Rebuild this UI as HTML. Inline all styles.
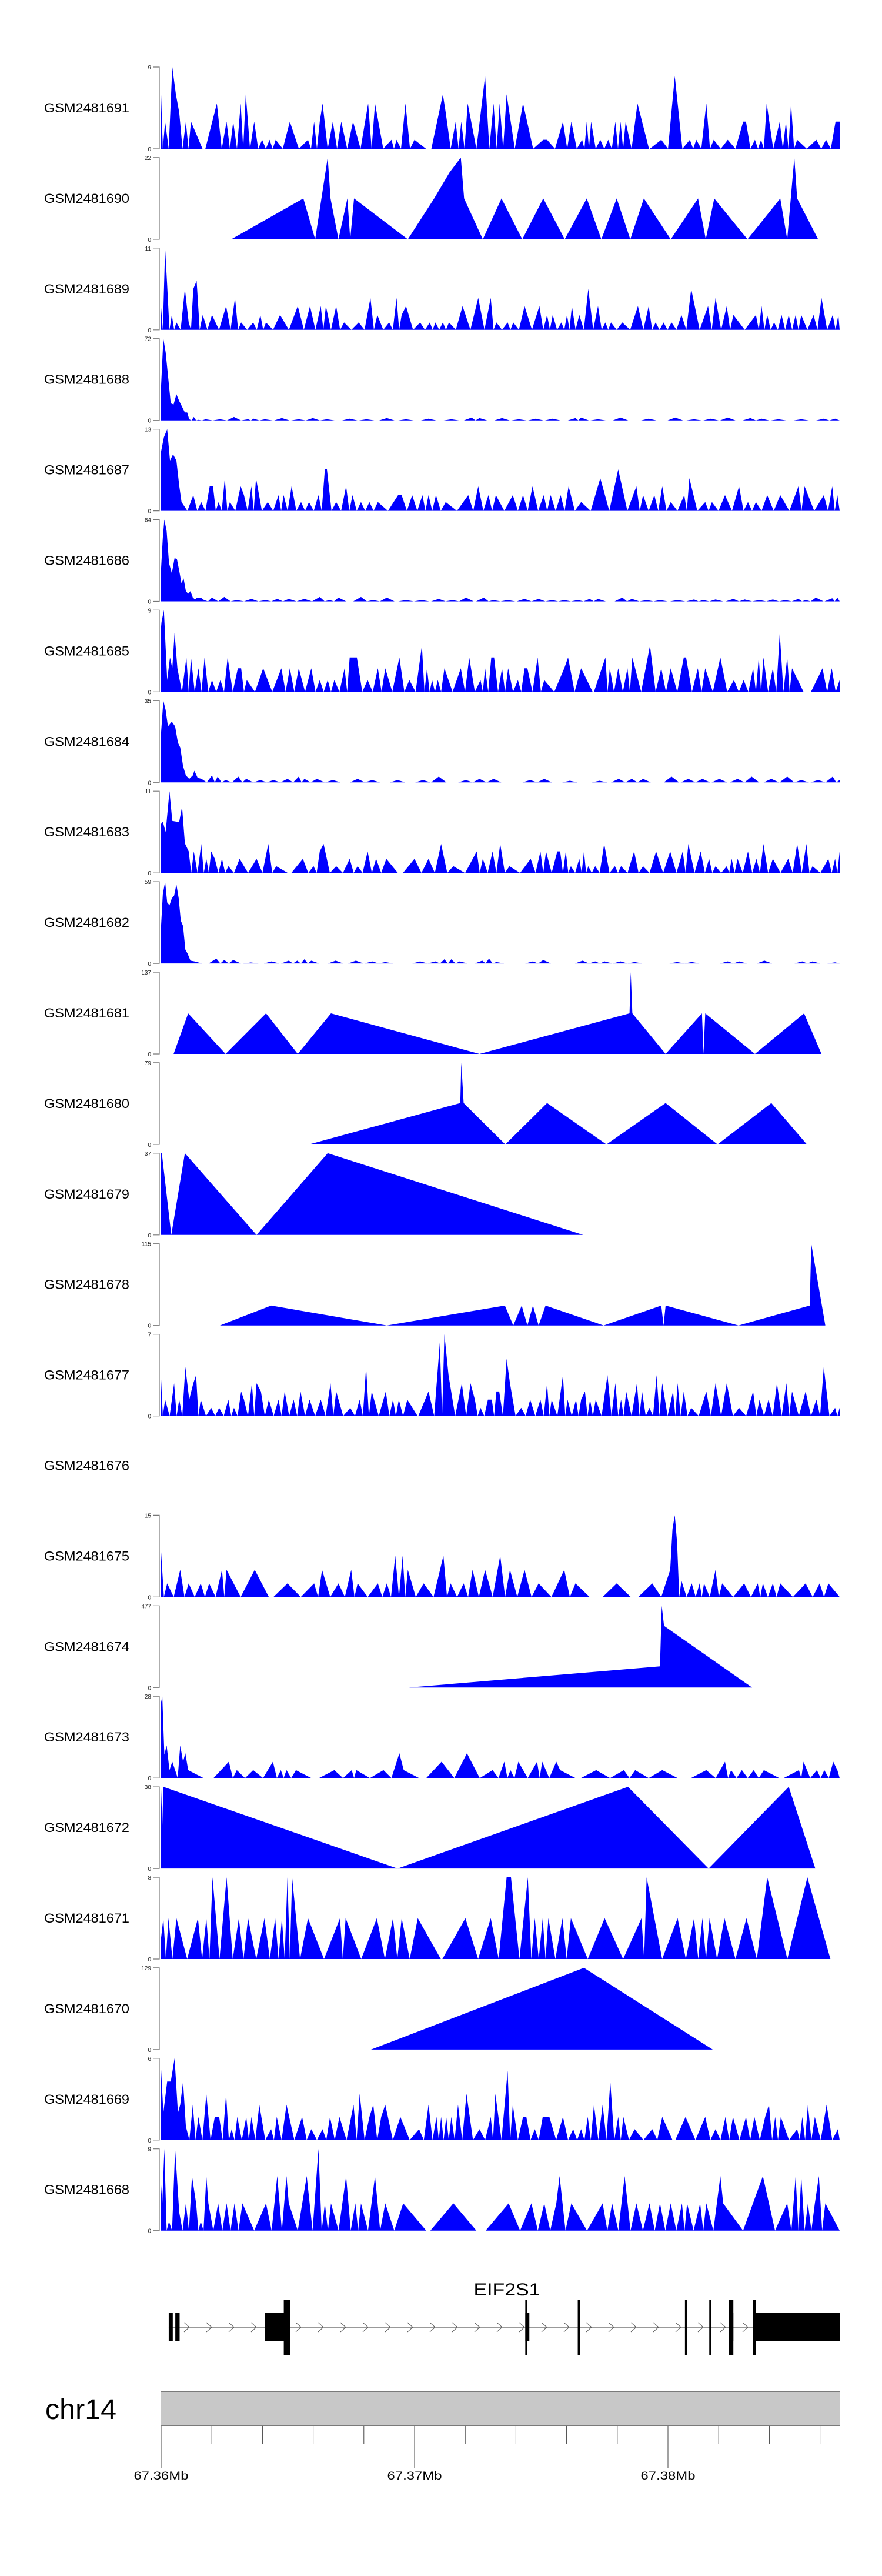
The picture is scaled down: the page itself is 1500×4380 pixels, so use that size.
<!DOCTYPE html>
<html><head><meta charset="utf-8"><title>Coverage tracks EIF2S1</title>
<style>
html,body{margin:0;padding:0;background:#fff;}
svg{display:block;font-family:"Liberation Sans",Arial,sans-serif;}
</style></head>
<body>
<svg id="chart" width="1500" height="4380" viewBox="0 0 1500 4380" xmlns="http://www.w3.org/2000/svg"></svg>
<script>
// ---- data (positions in kb from 67.36 Mb, values = coverage) ----
const trackNames = ['GSM2481691','GSM2481690','GSM2481689','GSM2481688','GSM2481687','GSM2481686','GSM2481685','GSM2481684','GSM2481683','GSM2481682','GSM2481681','GSM2481680','GSM2481679','GSM2481678','GSM2481677','GSM2481676','GSM2481675','GSM2481674','GSM2481673','GSM2481672','GSM2481671','GSM2481670','GSM2481669','GSM2481668'];
const trackMax = [9,22,11,72,13,64,9,35,11,59,137,79,37,115,7,null,15,477,28,38,8,129,6,9];
const trackMode = ['p','v','p','p','p','p','p','p','p','p','v','v','v','v','p',null,'p','v','p','v','p','v','p','p'];
const d1691 = [[0,8],[0.18,3],[0.46,9],[0.6,6],[0.73,4],[0.99,3],[1.19,3],[2.2,5],[2.58,3],[2.84,3],[3.13,5],[3.33,6],[3.66,3],[3.97,1],[4.26,1],[4.5,1],[5.05,3],[5.76,1],[6.0,3],[6.22,3],[6.33,5],[6.73,3],[7.06,3],[7.52,3],[8.11,5],[8.38,5],[9.02,1],[9.22,1],[9.57,5],[9.92,1],[11.03,6],[11.14,4],[11.53,3],[11.75,3],[12.0,5],[12.68,8],[13.01,5],[13.25,5],[13.52,6],[14.16,5],[14.95,1],[15.1,1],[15.72,3],[16.05,3],[16.47,1],[16.65,3],[16.82,3],[17.18,1],[17.49,1],[17.77,3],[17.97,3],[18.17,3],[18.63,5],[19.56,1],[20.09,8],[20.68,1],[20.93,1],[21.32,5],[21.61,1],[22.16,1],[22.76,3],[22.87,3],[23.22,1],[23.46,1],[23.68,5],[24.19,3],[24.43,3],[24.63,5],[24.87,1],[25.62,1],[26.0,1],[26.37,3],[26.53,3]];
const d1690 = [[2.76,0],[5.58,11],[6.04,0],[6.53,22],[6.64,11],[6.95,0],[7.3,11],[7.41,0],[7.56,11],[9.66,0],[10.69,11],[11.29,18],[11.73,22],[11.86,11],[12.59,0],[13.32,11],[14.13,0],[14.95,11],[15.79,0],[16.65,11],[17.22,0],[17.82,11],[18.35,0],[18.88,11],[19.93,0],[21.0,11],[21.3,0],[21.63,11],[22.93,0],[24.21,11],[24.48,0],[24.76,22],[24.87,11],[25.69,0]];
const d1689 = [[0,4],[0.18,11],[0.26,6],[0.44,2],[0.62,1],[0.95,5.5],[1.1,1],[1.28,5.5],[1.41,6.6],[1.65,2],[2.01,2],[2.56,3.2],[2.91,4.3],[3.15,1],[3.62,1],[3.9,2],[4.12,1],[4.67,2],[5.36,3.2],[5.84,3.2],[6.26,3.2],[6.46,3.2],[6.86,3.2],[7.17,1],[7.74,1],[8.2,4.3],[8.47,2],[8.93,1],[9.22,4.3],[9.42,2],[9.59,3.2],[10.14,1],[10.52,1],[10.74,1],[11.03,1],[11.27,1],[11.8,3.2],[12.41,4.3],[12.9,4.3],[13.12,1],[13.56,1],[13.78,1],[14.22,3.2],[14.8,3.2],[15.1,2],[15.32,2],[15.66,1],[15.88,2],[16.07,3.2],[16.36,2],[16.71,5.5],[17.09,3.2],[17.38,1],[17.6,1],[18.04,1],[18.65,3.2],[19.07,3.2],[19.34,1],[19.65,1],[19.96,1],[20.35,2],[20.73,5.5],[21.39,3.2],[21.68,4.3],[22.12,3.2],[22.38,2],[23.26,2],[23.48,3.2],[23.7,2],[23.97,1],[24.26,2],[24.54,2],[24.81,2],[25.03,2],[25.51,2],[25.82,4.3],[26.26,2],[26.48,2]];
const d1688 = [[0,20],[0.11,72],[0.2,60],[0.29,40],[0.4,15],[0.51,14],[0.62,23],[0.73,17],[0.84,12],[0.95,7],[1.04,7],[1.12,1],[1.3,3],[1.48,0.5],[1.76,1],[2.32,1],[2.87,3],[3.42,1],[3.64,1.5],[4.08,1],[4.74,2],[5.4,1],[5.95,2],[6.5,1],[7.39,1.5],[8.05,1],[8.84,2],[9.59,1],[10.47,1.5],[11.36,1],[12.15,2.5],[12.46,2],[13.34,2],[14.0,1],[14.66,1.5],[15.32,1.5],[16.21,2],[16.43,2.5],[17.09,1],[17.97,2.5],[19.07,1.5],[20.11,2.5],[20.84,1],[21.5,1.5],[22.16,2.5],[23.04,2],[23.48,1.5],[24.14,1],[25.03,1],[25.91,1.5],[26.35,1.5]];
const d1687 = [[0,9],[0.13,11.7],[0.26,13],[0.37,8],[0.49,9],[0.62,8],[0.73,4],[0.82,1.4],[1.28,2.5],[1.59,1.4],[1.92,3.9],[2.05,3.9],[2.27,1.4],[2.51,5.2],[2.71,1.4],[3.13,3.9],[3.26,2.5],[3.55,3.9],[3.73,5.2],[4.19,1.4],[4.61,2.5],[4.81,2.5],[5.12,3.9],[5.49,1.4],[5.8,1.4],[6.17,2.5],[6.42,6.6],[6.5,6.6],[6.86,1.4],[7.25,3.9],[7.5,2.5],[7.83,1.4],[8.16,1.4],[8.49,1.4],[9.28,2.5],[9.42,2.5],[9.83,2.5],[10.23,2.5],[10.47,2.5],[10.76,2.5],[11.14,1.4],[12.02,2.5],[12.41,3.9],[12.81,2.5],[13.1,2.5],[13.76,2.5],[14.16,2.5],[14.53,3.9],[14.97,2.5],[15.24,2.5],[15.63,2.5],[15.94,3.9],[16.43,1.4],[17.18,5.2],[17.88,6.6],[18.59,3.9],[18.85,2.5],[19.29,2.5],[19.6,3.9],[19.93,1.4],[20.46,2.5],[20.66,5.2],[21.28,1.4],[21.54,1.4],[22.05,2.5],[22.6,3.9],[22.95,1.4],[23.26,1.4],[23.7,2.5],[24.21,2.5],[24.92,3.9],[25.16,3.9],[25.91,2.5],[26.24,3.9],[26.44,2.5]];
const d1686 = [[0,18],[0.09,50],[0.15,64],[0.24,55],[0.33,30],[0.44,22],[0.55,34],[0.64,33],[0.73,24],[0.82,14],[0.9,18],[0.99,8],[1.08,6],[1.17,8],[1.26,3],[1.35,1.5],[1.43,3],[1.57,3],[1.7,1],[2.01,3],[2.49,3.5],[2.98,1],[3.55,2],[4.1,1],[4.56,2],[5.01,2],[5.62,2],[6.22,3.5],[6.6,1],[6.95,3],[7.83,3.5],[8.3,1],[8.84,3],[9.59,1],[10.2,1],[10.87,2],[11.4,1],[11.93,3],[12.63,3],[13.0,1],[13.56,1],[14.22,2],[14.77,2],[15.3,1],[15.77,1],[16.3,1],[16.76,2],[17.09,2],[18.04,3],[18.41,2],[19.0,1],[19.51,1],[20.2,1],[20.84,1.5],[21.2,1],[21.68,1.5],[22.38,2],[22.82,1.5],[23.4,1],[23.92,1.5],[24.4,1],[24.92,2],[25.2,1],[25.6,3],[26.24,2.5],[26.44,3]];
const d1685 = [[0,6.5],[0.04,7.7],[0.13,9],[0.26,1.3],[0.37,3.8],[0.46,2.6],[0.55,6.5],[0.66,2.6],[1.01,3.8],[1.19,3.8],[1.48,2.6],[1.72,3.8],[2.01,1.3],[2.34,1.3],[2.62,3.8],[3.02,2.6],[3.15,2.6],[3.37,1.3],[4.01,2.6],[4.72,2.6],[5.05,2.6],[5.4,2.6],[5.89,2.6],[6.22,1.3],[6.53,1.3],[6.79,1.3],[7.19,2.6],[7.39,3.8],[7.56,3.8],[7.67,3.8],[8.09,1.3],[8.49,2.6],[8.78,2.6],[9.33,3.8],[9.72,1.3],[10.21,5.1],[10.41,2.6],[10.61,1.3],[10.83,1.3],[11.09,2.6],[11.73,2.6],[12.06,3.8],[12.5,1.3],[12.68,2.6],[12.92,3.8],[13.03,3.8],[13.34,2.6],[13.58,2.6],[13.96,1.3],[14.22,2.6],[14.33,2.6],[14.73,3.8],[14.99,1.3],[15.77,2.6],[15.92,3.8],[16.43,2.6],[17.38,3.8],[17.55,2.6],[17.88,2.6],[18.24,2.6],[18.43,3.8],[19.12,5.1],[19.56,2.6],[19.93,2.6],[20.44,3.8],[20.53,3.8],[20.99,2.6],[21.28,2.6],[21.87,3.8],[22.4,1.3],[22.78,1.3],[23.15,2.6],[23.37,3.8],[23.55,3.8],[23.92,2.6],[24.19,6.5],[24.48,3.8],[24.67,2.6],[25.86,2.6],[26.22,2.6],[26.53,1.3]];
const d1684 = [[0,18],[0.11,35],[0.2,31],[0.29,24],[0.44,26],[0.57,24],[0.68,17],[0.77,15],[0.88,7],[0.99,3],[1.12,1.5],[1.26,3],[1.32,5],[1.45,2],[1.6,1.5],[2.01,3],[2.23,2.5],[2.54,1],[3.04,2.5],[3.35,1.5],[3.9,1],[4.41,1],[4.96,1.5],[5.4,2.5],[5.62,1.5],[6.11,1.5],[6.73,1],[7.7,1.5],[8.27,1],[9.26,1],[10.25,1],[10.87,2.5],[11.93,1],[12.46,1.5],[13.01,1.5],[14.44,1],[14.99,1.5],[15.99,0.7],[17.15,0.7],[17.9,1.5],[18.41,1.5],[18.85,1.5],[19.96,2.5],[20.62,1.5],[21.17,1.5],[21.83,1.5],[22.54,1.5],[23.09,2.5],[23.86,1.5],[24.48,2.5],[25.03,1],[25.69,1],[26.26,2.5],[26.53,1]];
const d1683 = [[0,6.5],[0.09,6.9],[0.2,5.5],[0.35,11],[0.46,7],[0.62,6.9],[0.73,6.9],[0.84,8.9],[0.95,4],[1.1,2.9],[1.3,2.9],[1.59,3.9],[1.79,1.9],[1.98,2.9],[2.12,1.9],[2.4,1.9],[2.65,0.9],[3.09,1.9],[3.75,1.9],[4.21,3.9],[4.52,0.9],[5.56,1.9],[5.98,0.9],[6.22,2.9],[6.37,3.9],[6.86,0.9],[7.39,1.9],[7.7,0.9],[8.09,2.9],[8.42,1.9],[8.82,1.9],[9.92,1.9],[10.47,1.9],[10.96,3.9],[11.44,0.9],[12.35,2.9],[12.59,1.9],[12.97,2.9],[13.27,3.9],[13.63,0.9],[14.46,1.9],[14.84,2.9],[15.06,2.9],[15.5,2.9],[15.61,2.9],[15.83,2.9],[16.03,0.9],[16.36,1.9],[16.54,2.9],[16.71,0.9],[16.98,0.9],[17.33,3.9],[17.75,0.9],[17.99,0.9],[18.5,2.9],[18.85,0.9],[19.36,2.9],[19.91,2.9],[20.4,2.9],[20.62,3.9],[21.1,2.9],[21.43,1.9],[21.68,0.9],[22.12,0.9],[22.31,1.9],[22.54,1.9],[22.95,2.9],[23.28,1.9],[23.55,3.9],[23.92,1.9],[24.52,1.9],[24.87,3.9],[25.23,3.9],[25.47,0.9],[26.09,1.9],[26.35,1.9],[26.53,2.9]];
const d1682 = [[0,20],[0.09,50],[0.18,59],[0.26,44],[0.35,42],[0.44,47],[0.53,49],[0.62,57],[0.71,47],[0.79,31],[0.88,27],[0.97,10],[1.06,7],[1.17,2],[1.32,1.5],[2.18,3.5],[2.49,2.5],[2.84,2.5],[3.53,0.7],[4.34,1.5],[5.01,2],[5.34,2],[5.62,3],[5.89,2],[6.84,2],[7.63,2],[8.27,1.5],[8.78,1],[10.14,1.5],[10.74,1.5],[11.09,3],[11.36,3],[11.69,1.5],[12.57,2],[12.83,3.5],[13.12,1],[14.55,1.5],[14.95,2.5],[16.49,2],[16.98,1.5],[17.35,1.5],[17.97,1.5],[18.52,1],[20.18,1],[20.75,1],[22.16,1.5],[22.6,1.5],[23.59,2],[25.07,1.5],[25.47,1.5],[26.35,0.8]];
const d1681 = [[0.51,0],[1.08,68],[2.54,0],[4.12,68],[5.36,0],[6.66,68],[12.46,0],[18.32,68],[18.37,137],[18.43,68],[19.73,0],[21.15,68],[21.21,0],[21.28,68],[23.22,0],[25.14,68],[25.82,0]];
const d1680 = [[5.8,0],[11.71,40],[11.75,79],[11.84,40],[13.47,0],[15.1,40],[17.42,0],[19.73,40],[21.76,0],[23.86,40],[25.25,0]];
const d1679 = [[0,37],[0.05,37],[0.42,0],[0.95,37],[3.75,0],[6.53,37],[16.51,0]];
const d1678 = [[2.32,0],[4.32,28],[8.84,0],[13.45,28],[13.78,0],[14.11,28],[14.33,0],[14.55,28],[14.77,0],[15.04,28],[17.31,0],[19.56,28],[19.65,0],[19.73,28],[22.58,0],[25.36,28],[25.42,115],[25.97,0]];
const d1677 = [[0,4.2],[0.18,1.4],[0.53,2.8],[0.73,1.4],[0.97,4.2],[1.12,1.4],[1.28,2.8],[1.39,3.5],[1.57,1.4],[1.98,0.7],[2.29,0.7],[2.65,1.4],[2.87,0.7],[3.15,2.1],[3.26,1.4],[3.57,2.8],[3.75,2.8],[3.92,2.1],[4.23,1.4],[4.61,1.4],[4.85,2.1],[5.2,1.4],[5.47,2.1],[5.82,1.4],[6.26,1.4],[6.64,2.8],[6.86,2.1],[7.41,0.7],[7.78,1.4],[8.03,4.2],[8.25,2.1],[8.8,2.1],[9.08,1.4],[9.31,1.4],[9.64,1.4],[10.47,2.1],[10.91,6.3],[11.09,7],[11.25,3.5],[11.77,2.8],[12.11,2.8],[12.28,1.4],[12.5,0.7],[12.79,1.4],[12.94,1.4],[13.12,2.1],[13.23,2.1],[13.52,4.9],[13.65,2.8],[14.09,0.7],[14.44,1.4],[14.84,1.4],[15.1,2.8],[15.28,1.4],[15.72,3.5],[15.9,1.4],[16.23,1.4],[16.43,1.4],[16.58,2.1],[16.78,1.4],[17.0,1.4],[17.46,3.5],[17.77,2.8],[17.99,1.4],[18.19,2.1],[18.61,2.8],[18.81,2.1],[19.1,0.7],[19.38,3.5],[19.6,2.8],[20.02,2.1],[20.2,2.8],[20.44,2.1],[20.73,0.7],[21.32,2.1],[21.68,2.8],[22.12,2.8],[22.6,0.7],[23.15,2.1],[23.4,1.4],[23.75,1.4],[24.08,2.8],[24.45,2.8],[24.67,2.1],[25.2,2.1],[25.62,1.4],[25.91,4.2],[26.35,0.7],[26.53,0.7]];
const d1676 = [];
const d1675 = [[0,10],[0.26,2.5],[0.77,5],[1.1,2.5],[1.57,2.5],[1.9,2.5],[2.4,5],[2.58,5],[3.68,5],[4.96,2.5],[6.0,2.5],[6.31,5],[6.95,2.5],[7.45,5],[7.7,2.5],[8.49,2.5],[8.84,2.5],[9.17,7.6],[9.46,7.6],[9.66,5],[10.28,2.5],[11.05,7.6],[11.33,2.5],[11.84,2.5],[12.19,5],[12.68,5],[13.27,7.6],[13.65,5],[14.22,5],[14.77,2.5],[15.77,5],[16.21,2.5],[17.82,2.5],[19.21,2.5],[19.91,5],[20.0,12.5],[20.09,15],[20.18,10],[20.35,3],[20.75,2.5],[21.06,2.5],[21.23,2.5],[21.68,5],[21.94,2.5],[22.8,2.5],[23.33,2.5],[23.53,2.5],[23.92,2.5],[24.21,2.5],[25.2,2.5],[25.75,2.5],[26.09,2.5]];
const d1674 = [[9.7,0],[19.51,124],[19.58,477],[19.67,360],[23.11,0]];
const d1673 = [[0,25],[0.07,28],[0.15,8],[0.24,11.2],[0.35,2.7],[0.46,5.6],[0.57,2.7],[0.77,11.2],[0.88,5.6],[0.97,8.5],[1.08,2.7],[2.67,5.6],[2.98,2.7],[3.62,2.7],[4.39,5.6],[4.7,2.7],[4.92,2.7],[5.29,2.7],[6.79,2.7],[7.47,2.7],[7.65,2.7],[8.71,2.7],[9.33,8.5],[9.5,2.7],[10.98,5.6],[11.97,8.5],[12.97,2.7],[13.43,5.6],[13.67,2.7],[13.98,5.6],[14.71,5.6],[14.91,5.6],[15.46,5.6],[15.61,2.7],[17.02,2.7],[18.1,2.7],[18.54,2.7],[19.6,2.7],[21.32,2.7],[22.05,5.6],[22.29,2.7],[22.71,2.7],[23.17,2.7],[23.57,2.7],[24.94,2.7],[25.12,5.6],[25.64,2.7],[25.93,2.7],[26.28,5.6],[26.44,2.7]];
const d1672 = [[0,0],[0.02,38],[0.07,20],[0.11,38],[9.26,0],[18.26,38],[21.41,0],[24.54,38],[25.58,0]];
const d1671 = [[0,1.6],[0.11,4],[0.31,4],[0.62,4],[1.46,4],[1.79,4],[2.03,8],[2.58,8],[3.06,4],[3.42,4],[4.06,4],[4.48,4],[4.74,4],[4.96,8],[5.14,8],[5.76,4],[7.01,4],[7.23,4],[8.45,4],[9.08,4],[9.42,4],[10.05,4],[11.91,4],[12.9,4],[13.52,8],[13.69,8],[14.35,8],[14.62,4],[14.93,4],[15.15,4],[15.7,4],[16.03,4],[17.35,4],[18.79,4],[18.99,8],[20.2,4],[20.84,4],[21.17,4],[21.45,4],[22.03,4],[22.89,4],[23.7,8],[25.27,8]];
const d1670 = [[8.22,0],[16.54,129],[21.57,0]];
const d1669 = [[0,6],[0.11,2],[0.26,4.3],[0.4,4.3],[0.55,6],[0.68,2],[0.77,2.6],[0.88,4.3],[0.99,1],[1.26,2.6],[1.48,1.7],[1.79,3.4],[2.12,1.7],[2.29,1.7],[2.56,3.4],[2.78,0.8],[3.0,1.7],[3.35,1.7],[3.55,1.7],[3.86,2.6],[4.32,0.8],[4.54,1.7],[4.92,2.6],[5.53,1.7],[5.89,0.8],[6.33,0.8],[6.62,1.7],[6.99,1.7],[7.54,2.6],[7.78,3.4],[8.16,1.7],[8.31,2.6],[8.62,1.7],[8.78,2.6],[9.37,1.7],[10.1,0.8],[10.47,2.6],[10.78,1.7],[10.96,1.7],[11.16,1.7],[11.36,1.7],[11.62,2.6],[11.95,3.4],[12.46,0.8],[12.9,1.7],[13.08,3.4],[13.56,5.1],[13.76,2.6],[14.16,1.7],[14.29,1.7],[14.62,0.8],[14.93,1.7],[15.08,1.7],[15.19,1.7],[15.72,1.7],[16.12,0.8],[16.43,0.8],[16.69,1.7],[16.93,2.6],[17.27,2.6],[17.57,4.3],[17.88,1.7],[18.08,1.7],[18.52,0.8],[19.21,0.8],[19.6,1.7],[20.51,1.7],[21.28,1.7],[21.68,0.8],[22.07,1.7],[22.36,1.7],[22.87,1.7],[23.2,1.7],[23.62,1.7],[23.77,2.6],[24.01,1.7],[24.23,1.7],[24.87,0.8],[25.07,1.7],[25.29,2.6],[25.56,1.7],[26.02,2.6],[26.46,0.8]];
const d1668 = [[0,6],[0.07,3],[0.15,9],[0.33,1],[0.57,9],[0.73,2],[0.99,3],[1.23,6],[1.39,3],[1.57,1],[1.79,6],[1.87,3],[2.25,3],[2.58,3],[2.89,3],[3.2,3],[4.12,3],[4.56,6],[4.92,6],[5.01,3],[5.71,6],[6.17,9],[6.42,3],[6.66,3],[7.25,6],[7.61,3],[7.83,3],[8.38,6],[8.78,3],[9.48,3],[11.44,3],[13.6,3],[14.49,3],[14.99,3],[15.46,3],[15.59,6],[16.05,3],[17.27,3],[17.64,3],[18.13,6],[18.59,3],[19.1,3],[19.51,3],[19.93,3],[20.37,3],[20.57,3],[21.08,3],[21.32,3],[21.87,6],[21.98,3],[23.53,6],[24.48,3],[24.81,6],[25.03,6],[25.29,3],[25.56,3],[25.72,6],[25.97,3]];
const trackData = [d1691,d1690,d1689,d1688,d1687,d1686,d1685,d1684,d1683,d1682,d1681,d1680,d1679,d1678,d1677,d1676,d1675,d1674,d1673,d1672,d1671,d1670,d1669,d1668];
const rulerLabels = ['67.36Mb','67.37Mb','67.38Mb'];
const rulerLabelKb = [0,10,20];
// gene model (kb offsets): [start, end] of exon pieces
const geneThin = [[0.3,0.46],[0.56,0.73],[4.09,5.09],[14.37,14.53],[22.4,22.58],[23.4,26.8]];
const geneTall = [[4.84,5.09],[14.37,14.45],[16.44,16.54],[20.67,20.75],[21.63,21.71],[22.4,22.58],[23.36,23.46]];
// ---- layout (style, not data) ----
const halfW = [0.45,0.5,0.5,0.3,0.45,0.3,0.45,0.3,0.45,0.3,0.5,0.5,0.5,0.5,0.4,0.5,0.55,0.5,0.6,0.5,0.9,0.5,0.4,0.9];
const SPAN = 26.53, X0 = 273, X1 = 1428;
const TOP0 = 114, PITCH = 153.9, PH = 139;
const NS = 'http://www.w3.org/2000/svg';
const svg = document.getElementById('chart');
function xs(kb){ return X0 + Math.max(0,Math.min(SPAN,kb)) * (X1 - X0) / SPAN; }
function rx(kb){ return 274 + kb * 43.1; }
function mk(tag, attrs, parent){ const e = document.createElementNS(NS, tag); for (const k in attrs) e.setAttribute(k, attrs[k]); (parent||svg).appendChild(e); return e; }

function buildVerts(data, mode, hw){
  const pts = data.slice().sort((a,b)=>a[0]-b[0]);
  if (mode === 'v') return pts;
  const out = [];
  out.push([Math.max(0, pts[0][0] - hw), 0]);
  for (let i = 0; i < pts.length; i++){
    out.push(pts[i]);
    if (i < pts.length - 1){
      const a = pts[i][0], b = pts[i+1][0], gap = b - a;
      if (gap > 0.17){
        if (gap > 2*hw){ out.push([a+hw,0]); out.push([b-hw,0]); }
        else out.push([(a+b)/2, 0]);
      }
    }
  }
  out.push([Math.min(SPAN, pts[pts.length-1][0] + hw), 0]);
  return out;
}

trackNames.forEach((name, i) => {
  const top = TOP0 + PITCH * i, base = top + PH;
  const g = mk('g', {});
  
  
  const lab = mk('text', {x: 75, y: top + 77, 'font-size': 22, fill: '#000', textLength: 145, lengthAdjust: 'spacingAndGlyphs'}, g);
  lab.textContent = name;
  
  
  const max = trackMax[i];
  if (max === null) return;
  const ax = mk('path', {d: `M260,${top}H271V${base}H260`, stroke: '#777', 'stroke-width': 1.2, fill: 'none'}, g);
  
  
  const tmax = mk('text', {x: 257, y: top + 4, 'font-size': 10, 'text-anchor': 'end', fill: '#222'}, g);
  tmax.textContent = String(max);
  
  
  const tmin = mk('text', {x: 257, y: base + 4, 'font-size': 10, 'text-anchor': 'end', fill: '#222'}, g);
  tmin.textContent = '0';
  
  
  const verts = buildVerts(trackData[i], trackMode[i], halfW[i]);
  let d = `M${xs(verts[0][0]).toFixed(1)},${base}`;
  verts.forEach(p => { d += `L${xs(p[0]).toFixed(1)},${(base - p[1] / max * PH).toFixed(1)}`; });
  d += `L${xs(verts[verts.length-1][0]).toFixed(1)},${base}Z`;
  const area = mk('path', {d: d, fill: '#0000ff', stroke: 'none'}, g);
  
  
});

// gene track
const gg = mk('g', {});


const gname = mk('text', {x: 862, y: 3903, 'font-size': 30, 'text-anchor': 'middle', fill: '#000', textLength: 113, lengthAdjust: 'spacingAndGlyphs'}, gg);
gname.textContent = 'EIF2S1';


const intron = mk('line', {x1: rx(0.3), x2: rx(23.4), y1: 3957, y2: 3957, stroke: '#333', 'stroke-width': 1}, gg);


for (let x = 313; x < 1280; x += 38){
  if (x > 440 && x < 496) continue;
  const ch = mk('path', {d: `M${x},3949L${x+9},3957L${x},3965`, stroke: '#555', 'stroke-width': 1, fill: 'none'}, gg);
  
  
}
geneThin.forEach(e => {
  const x1 = rx(e[0]), x2 = Math.min(X1, rx(e[1]));
  const r = mk('rect', {x: x1, y: 3933, width: Math.max(2, x2 - x1), height: 48, fill: '#000'}, gg);
  
  
});
geneTall.forEach(e => {
  const r = mk('rect', {x: rx(e[0]), y: 3910, width: Math.max(2.5, rx(e[1]) - rx(e[0])), height: 95, fill: '#000'}, gg);
  
  
});

// chromosome ruler
const chrLab = mk('text', {x: 77, y: 4113, 'font-size': 48, fill: '#000', textLength: 121, lengthAdjust: 'spacingAndGlyphs'});
chrLab.textContent = 'chr14';


const chrBox = mk('rect', {x: 274, y: 4066, width: X1 - 274, height: 58, fill: '#c8c8c8'});


const bt = mk('line', {x1: 274, x2: X1, y1: 4066, y2: 4066, stroke: '#7a7a7a', 'stroke-width': 2});


const bb = mk('line', {x1: 274, x2: X1, y1: 4124, y2: 4124, stroke: '#7a7a7a', 'stroke-width': 2});


for (let kb = 0; kb <= 26; kb += 2){
  const major = rulerLabelKb.indexOf(kb) >= 0;
  const t = mk('line', {x1: rx(kb), x2: rx(kb), y1: 4125, y2: major ? 4197 : 4155, stroke: '#444', 'stroke-width': 1});
  
  
}
rulerLabels.forEach((s, i) => {
  const t = mk('text', {x: rx(rulerLabelKb[i]), y: 4216, 'font-size': 19, 'text-anchor': 'middle', fill: '#000', textLength: 93, lengthAdjust: 'spacingAndGlyphs'});
  t.textContent = s;
  
  
});
</script>
</body></html>
